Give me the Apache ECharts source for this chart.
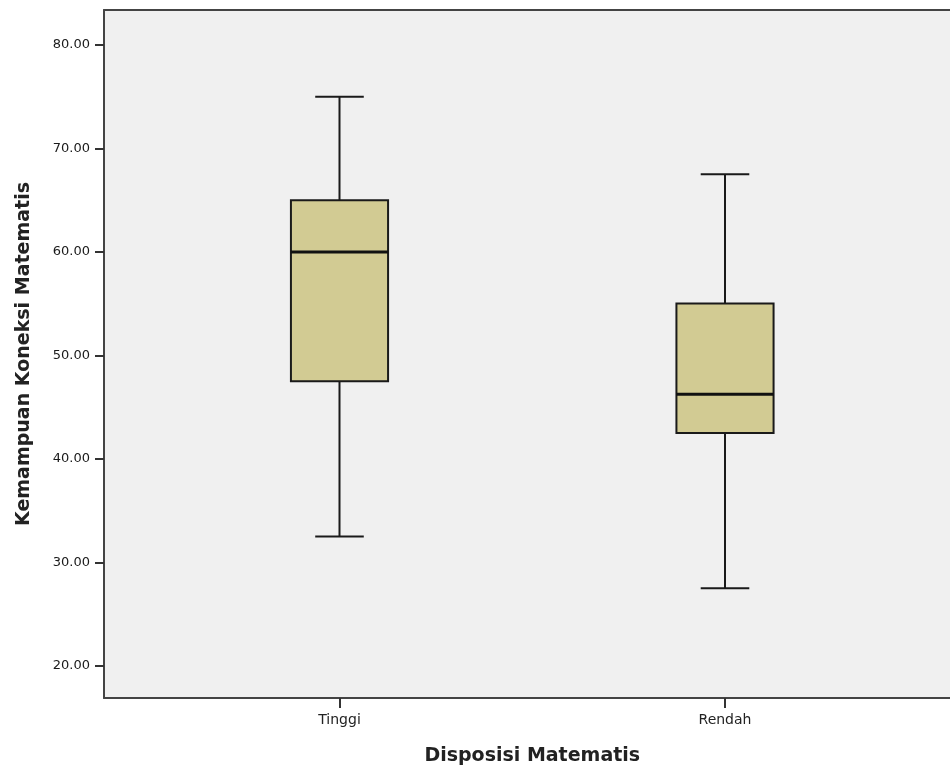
<!DOCTYPE html>
<html>
<head>
<meta charset="utf-8">
<script src="https://cdn.jsdelivr.net/npm/echarts@6/dist/echarts.min.js"></script>
<style>
html,body{margin:0;padding:0;background:#fff;}
#chart{width:950px;height:771px;}
</style>
</head>
<body>
<div id="chart"></div>
<script>
const categories = ['Tinggi', 'Rendah'];
const minVals = [32.5, 27.5];
const q1Vals = [47.5, 42.5];
const medianVals = [60, 46.25];
const q3Vals = [65, 55];
const maxVals = [75, 67.5];
const yTicks = [20, 30, 40, 50, 60, 70, 80];

const Y_MIN = 16.88, Y_MAX = 83.38;

const boxData = categories.map((c, i) => [i, minVals[i], q1Vals[i], medianVals[i], q3Vals[i], maxVals[i]]);

const chart = echarts.init(document.getElementById('chart'));
const FONT = 'DejaVu Sans, Verdana, sans-serif';
const FRAME = { color: '#444', width: 2 };

function renderBox(params, api) {
  const idx = api.value(0);
  const pMin = api.coord([idx, api.value(1)]);
  const pQ1 = api.coord([idx, api.value(2)]);
  const pMed = api.coord([idx, api.value(3)]);
  const pQ3 = api.coord([idx, api.value(4)]);
  const pMax = api.coord([idx, api.value(5)]);
  const band = api.size([1, 0])[0];
  const bw = band * 0.252;
  const cw = bw / 2;
  const cx = pMed[0];
  const lineStyle = { stroke: '#1a1a1a', lineWidth: 2 };
  return {
    type: 'group',
    children: [
      { type: 'line', shape: { x1: cx, y1: pMax[1], x2: cx, y2: pQ3[1] }, style: lineStyle },
      { type: 'line', shape: { x1: cx, y1: pQ1[1], x2: cx, y2: pMin[1] }, style: lineStyle },
      { type: 'line', shape: { x1: cx - cw / 2, y1: pMax[1], x2: cx + cw / 2, y2: pMax[1] }, style: lineStyle },
      { type: 'line', shape: { x1: cx - cw / 2, y1: pMin[1], x2: cx + cw / 2, y2: pMin[1] }, style: lineStyle },
      { type: 'rect', shape: { x: cx - bw / 2, y: pQ3[1], width: bw, height: pQ1[1] - pQ3[1] },
        style: { fill: '#d2cb93', stroke: '#1a1a1a', lineWidth: 2 } },
      { type: 'line', shape: { x1: cx - bw / 2, y1: pMed[1], x2: cx + bw / 2, y2: pMed[1] },
        style: { stroke: '#111', lineWidth: 3 } }
    ]
  };
}

chart.setOption({
  animation: false,
  backgroundColor: '#ffffff',
  grid: [
    { left: 104, top: 10, bottom: 73, right: 0, show: true, backgroundColor: '#f0f0f0',
      borderWidth: 0 },
    { left: 146.75, top: 10, bottom: 73, width: 771 }
  ],
  xAxis: [
    { gridIndex: 0, type: 'value', position: 'bottom', min: 0, max: 1,
      axisLine: { show: true, onZero: false, lineStyle: FRAME },
      axisTick: { show: false }, axisLabel: { show: false }, splitLine: { show: false } },
    { gridIndex: 0, type: 'value', position: 'top', min: 0, max: 1,
      axisLine: { show: true, onZero: false, lineStyle: FRAME },
      axisTick: { show: false }, axisLabel: { show: false }, splitLine: { show: false } },
    { gridIndex: 1, type: 'category', data: categories,
      axisLine: { show: false },
      axisTick: { show: true, alignWithLabel: true, length: 10, lineStyle: { color: '#333', width: 2 } },
      axisLabel: { margin: 15, color: '#222', fontFamily: FONT, fontSize: 14 },
      name: 'Disposisi Matematis', nameLocation: 'middle', nameGap: 49,
      nameTextStyle: { fontFamily: FONT, fontSize: 19, fontWeight: 'bold', color: '#222' } }
  ],
  yAxis: [
    { gridIndex: 0, type: 'value', min: Y_MIN, max: Y_MAX,
      axisLine: { show: true, onZero: false, lineStyle: FRAME },
      axisTick: { show: true, customValues: yTicks, length: 9, lineStyle: { color: '#333', width: 2 } },
      axisLabel: { customValues: yTicks, margin: 14, color: '#1a1a1a', fontFamily: FONT, fontSize: 13,
        formatter: v => Number(v).toFixed(2) },
      splitLine: { show: false },
      name: 'Kemampuan Koneksi Matematis', nameLocation: 'middle', nameGap: 70,
      nameTextStyle: { fontFamily: FONT, fontSize: 19, fontWeight: 'bold', color: '#222' } },
    { gridIndex: 1, type: 'value', min: Y_MIN, max: Y_MAX, show: false, splitLine: { show: false } }
  ],
  series: [
    { type: 'custom', xAxisIndex: 2, yAxisIndex: 1, renderItem: renderBox,
      encode: { x: 0, y: [1, 2, 3, 4, 5] }, data: boxData }
  ]
});
</script>
</body>
</html>
